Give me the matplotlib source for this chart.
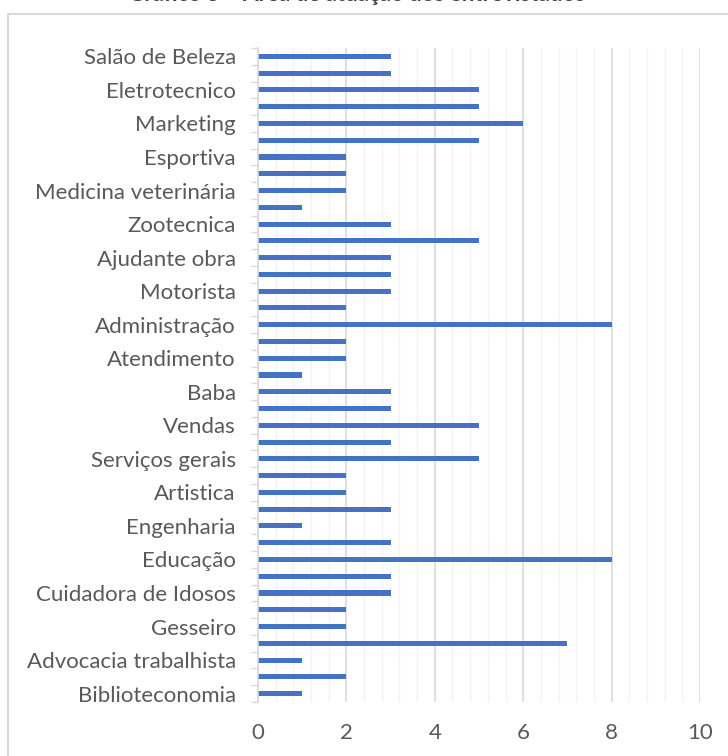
import matplotlib
matplotlib.use("Agg")
import matplotlib.pyplot as plt
from matplotlib.patches import Rectangle
from matplotlib.ticker import MultipleLocator
import numpy as np

plt.rcParams['font.family'] = ['Lato', 'DejaVu Sans']

# Categories from bottom to top (every other label is hidden in the original)
categories = [
    "Biblioteconomia", "", "Advocacia trabalhista", "", "Gesseiro", "",
    "Cuidadora de Idosos", "", "Educação", "", "Engenharia", "",
    "Artistica", "", "Serviços gerais", "", "Vendas", "", "Baba", "",
    "Atendimento", "", "Administração", "", "Motorista", "",
    "Ajudante obra", "", "Zootecnica", "", "Medicina veterinária", "",
    "Esportiva", "", "Marketing", "", "Eletrotecnico", "", "Salão de Beleza",
]
values = [
    1, 2, 1, 7, 2, 2, 3, 3, 8, 3, 1, 3, 2, 2, 5, 3, 5, 3, 3, 1,
    2, 2, 8, 2, 3, 3, 3, 5, 3, 1, 2, 2, 2, 5, 6, 5, 5, 3, 3,
]
x_ticks = [0, 2, 4, 6, 8, 10]
title = "Gráfico 3 – Área de atuação dos entrevistados"

W, H = 728, 756
fig = plt.figure(figsize=(W / 100, H / 100), dpi=100)

# chart border (cropped on right/bottom)
fig.add_artist(Rectangle((8 / W, -0.05), 1.2, 1 - 14 / H + 0.05,
                         transform=fig.transFigure, fill=False,
                         edgecolor="#D9D9D9", linewidth=1.5))

fig.text(0.49, 1 - 1.0 / H, title, ha="center", va="baseline",
         fontsize=16, fontweight="bold", color="#404040")

ax = fig.add_axes([258 / W, 1 - 702 / H, (700 - 258) / W, (702 - 48) / H])
pos = np.arange(len(values))
ax.barh(pos, values, height=0.3, color="#4472C4", zorder=3)

ax.set_xlim(0, 10)
ax.set_ylim(-0.5, len(values) - 0.5)
ax.set_xticks(x_ticks)
ax.set_xticklabels([str(t) for t in x_ticks])
ax.xaxis.set_minor_locator(MultipleLocator(0.4))
ax.grid(axis="x", which="major", color="#D9D9D9", linewidth=1.2, zorder=0)
ax.grid(axis="x", which="minor", color="#F2F2F2", linewidth=1.0, zorder=0)

label_idx = [i for i, c in enumerate(categories) if c]
ax.set_yticks([pos[i] for i in label_idx])
ax.set_yticklabels([categories[i] for i in label_idx])
ax.set_yticks(np.arange(-0.5, len(values), 1.0), minor=True)

ax.tick_params(axis="y", which="major", length=0, pad=16,
               labelsize=16, labelcolor="#595959")
ax.tick_params(axis="y", which="minor", length=5, width=1, color="#D9D9D9",
               direction="out")
ax.tick_params(axis="x", which="both", length=0, pad=15,
               labelsize=16, labelcolor="#595959")

for s in ["top", "right", "bottom"]:
    ax.spines[s].set_visible(False)
ax.spines["left"].set_color("#D9D9D9")
ax.spines["left"].set_linewidth(1.2)
ax.spines["left"].set_zorder(4)

fig.savefig("out.png", dpi=100)
